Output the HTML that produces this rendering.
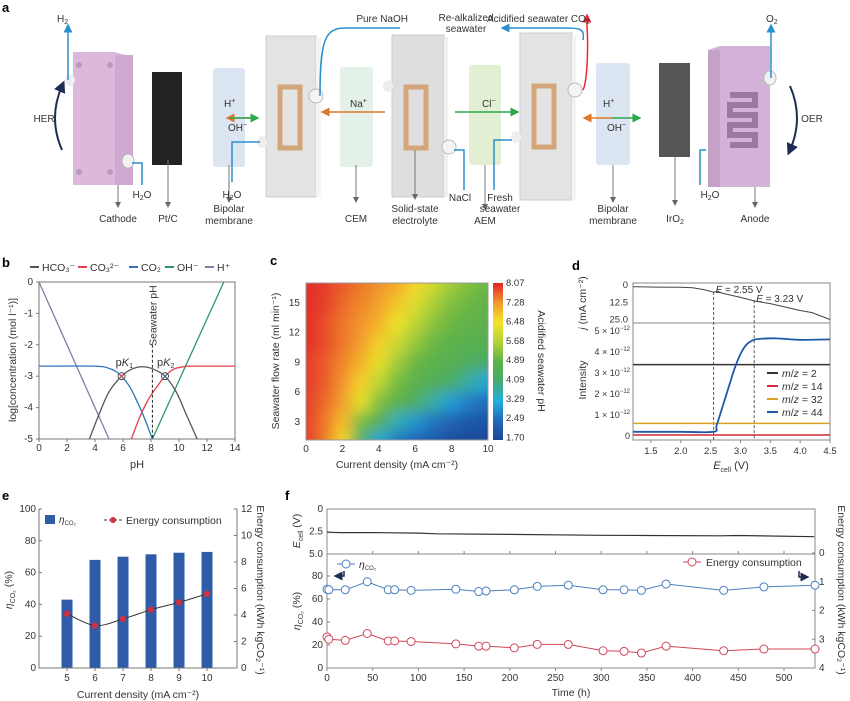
<!DOCTYPE html>
<html><head><meta charset="utf-8"><style>
html,body{margin:0;padding:0;background:#fff}
svg{display:block;font-family:"Liberation Sans",sans-serif}
text{fill:#333}
.t{font-size:10px}.s{font-size:9px}.b{font-size:13px;font-weight:bold;fill:#000}
</style></head><body>
<svg id="fig" width="850" height="701" viewBox="0 0 850 701">
<defs>
<marker id="ag" markerWidth="6" markerHeight="6" refX="3" refY="3" orient="auto"><path d="M0,0L6,3L0,6z" fill="#666"/></marker>
<marker id="ab" markerWidth="6" markerHeight="6" refX="3" refY="3" orient="auto"><path d="M0,0L6,3L0,6z" fill="#2a8fd0"/></marker>
<marker id="ar" markerWidth="6" markerHeight="6" refX="3" refY="3" orient="auto"><path d="M0,0L6,3L0,6z" fill="#e23"/></marker>
<marker id="ao" markerWidth="6" markerHeight="6" refX="3" refY="3" orient="auto"><path d="M0,0L6,3L0,6z" fill="#e0762a"/></marker>
<marker id="agr" markerWidth="6" markerHeight="6" refX="3" refY="3" orient="auto"><path d="M0,0L6,3L0,6z" fill="#2aa84a"/></marker>
<marker id="an" markerWidth="6" markerHeight="6" refX="3" refY="3" orient="auto"><path d="M0,0L6,3L0,6z" fill="#1d2b55"/></marker>
<filter id="blr" x="-10%" y="-10%" width="120%" height="120%"><feGaussianBlur stdDeviation="7"/></filter>
<clipPath id="cpc"><rect x="306" y="283" width="182" height="157"/></clipPath>
</defs>

<!-- PANEL A -->
<g>
<text x="2" y="12" class="b">a</text>
<g>
<polygon points="73,52 115,52 133,57 133,185 115,185 73,185" fill="#dcb8dc"/>
<rect x="115" y="55" width="18" height="130" fill="#cfa9cf"/>
<circle cx="79" cy="65" r="3" fill="#b99ab9"/><circle cx="110" cy="65" r="3" fill="#b99ab9"/>
<circle cx="79" cy="172" r="3" fill="#b99ab9"/><circle cx="110" cy="172" r="3" fill="#b99ab9"/>
<ellipse cx="70" cy="80" rx="5" ry="6" fill="#eee"/><ellipse cx="128" cy="161" rx="6" ry="7" fill="#f2f2f2" stroke="#bbb"/>
</g>
<rect x="152" y="72" width="30" height="93" fill="#222"/>
<rect x="213" y="68" width="32" height="99" rx="3" fill="#dbe6f2"/>
<g><rect x="266" y="36" width="50" height="161" fill="#e3e3e3" stroke="#ccc"/><rect x="316" y="38" width="5" height="159" fill="#f4f4f4"/>
<rect x="280" y="87" width="20" height="61" fill="none" stroke="#d2a678" stroke-width="5"/><ellipse cx="316" cy="96" rx="7" ry="7" fill="#f4f4f4" stroke="#bbb"/><ellipse cx="262" cy="142" rx="5" ry="6" fill="#eee"/></g>
<rect x="340" y="67" width="33" height="100" rx="3" fill="#e3f1e8"/>
<g><rect x="392" y="35" width="52" height="162" fill="#dedede" stroke="#ccc"/><rect x="444" y="37" width="4" height="160" fill="#f0f0f0"/>
<rect x="406" y="87" width="20" height="61" fill="none" stroke="#d2a678" stroke-width="5"/><ellipse cx="388" cy="86" rx="5" ry="6" fill="#eee"/><ellipse cx="449" cy="147" rx="7" ry="7" fill="#f4f4f4" stroke="#bbb"/></g>
<rect x="469" y="65" width="32" height="100" rx="3" fill="#e2efd2"/>
<g><rect x="520" y="33" width="52" height="167" fill="#e3e3e3" stroke="#ccc"/><rect x="572" y="35" width="4" height="165" fill="#f4f4f4"/>
<rect x="534" y="86" width="20" height="61" fill="none" stroke="#d2a678" stroke-width="5"/><ellipse cx="575" cy="90" rx="7" ry="7" fill="#f4f4f4" stroke="#bbb"/><ellipse cx="516" cy="137" rx="5" ry="6" fill="#eee"/></g>
<rect x="596" y="63" width="34" height="102" rx="3" fill="#dbe6f2"/>
<rect x="659" y="63" width="31" height="94" fill="#555"/>
<g><polygon points="708,50 720,46 770,46 770,187 708,187" fill="#d2b2d6"/><rect x="708" y="50" width="12" height="137" fill="#c4a2c8"/>
<path d="M730,95h25v10h-25v10h25v10h-25v10h25v10h-25" fill="none" stroke="#9c7aa0" stroke-width="6"/><ellipse cx="770" cy="78" rx="6" ry="7" fill="#f2f2f2" stroke="#bbb"/></g>
<g fill="none" stroke-width="1.5">
<path d="M68,80 V28" stroke="#2a8fd0" marker-end="url(#ab)"/>
<path d="M142,185 V163 h-10" stroke="#2a8fd0"/>
<path d="M771,78 V28" stroke="#2a8fd0" marker-end="url(#ab)"/>
<path d="M232,182 V142 h28" stroke="#2a8fd0"/>
<path d="M700,185 V150 h6" stroke="#2a8fd0"/>
<path d="M464,190 V150 h-10" stroke="#2a8fd0"/>
<path d="M494,190 V140 h18" stroke="#2a8fd0"/>
<path d="M320,96 C320,40 325,28 345,28 H400" stroke="#2a8fd0"/>
<path d="M583,90 C588,80 588,40 587,28 V18" stroke="#e23" marker-end="url(#ar)"/>
<path d="M583,40 C585,28 580,28 560,28 H505" stroke="#2a8fd0" marker-end="url(#ab)"/>
<path d="M255,118 h-25" stroke="#e0762a" marker-end="url(#ao)"/><path d="M230,118 h25" stroke="#2aa84a" marker-end="url(#agr)"/>
<path d="M385,112 h-60" stroke="#e0762a" marker-end="url(#ao)"/>
<path d="M455,112 h60" stroke="#2aa84a" marker-end="url(#agr)"/>
<path d="M612,118 h-25" stroke="#e0762a" marker-end="url(#ao)"/><path d="M612,118 h25" stroke="#2aa84a" marker-end="url(#agr)"/>
<path d="M62,150 Q48,118 62,86" stroke="#1d2b55" stroke-width="2" marker-end="url(#an)"/>
<path d="M790,86 Q804,118 790,150" stroke="#1d2b55" stroke-width="2" marker-end="url(#an)"/>
<g stroke="#777" stroke-width="1"><path d="M118,185 V205" marker-end="url(#ag)"/><path d="M168,160 V205" marker-end="url(#ag)"/><path d="M229,165 V200" marker-end="url(#ag)"/><path d="M356,165 V200" marker-end="url(#ag)"/><path d="M415,150 V197" marker-end="url(#ag)"/><path d="M485,165 V207" marker-end="url(#ag)"/><path d="M613,165 V200" marker-end="url(#ag)"/><path d="M675,157 V203" marker-end="url(#ag)"/><path d="M755,187 V205" marker-end="url(#ag)"/></g>
</g>
<g class="t">
<text x="57" y="22">H<tspan font-size="7" dy="2">2</tspan></text>
<text x="766" y="22">O<tspan font-size="7" dy="2">2</tspan></text>
<text x="44" y="122" text-anchor="middle">HER</text><text x="812" y="122" text-anchor="middle">OER</text>
<text x="408" y="22" text-anchor="end">Pure NaOH</text>
<text x="466" y="21" text-anchor="middle">Re-alkalized</text><text x="466" y="32" text-anchor="middle">seawater</text>
<text x="487" y="22">Acidified seawater CO<tspan font-size="7" dy="2">2</tspan></text>
<text x="224" y="107" fill="#e0762a">H<tspan font-size="7" dy="-4">+</tspan></text><text x="228" y="131" fill="#2aa84a">OH<tspan font-size="7" dy="-4">−</tspan></text>
<text x="350" y="107" fill="#e0762a">Na<tspan font-size="7" dy="-4">+</tspan></text>
<text x="482" y="107" fill="#2aa84a">Cl<tspan font-size="7" dy="-4">−</tspan></text>
<text x="603" y="107" fill="#e0762a">H<tspan font-size="7" dy="-4">+</tspan></text><text x="607" y="131" fill="#2aa84a">OH<tspan font-size="7" dy="-4">−</tspan></text>
<text x="118" y="222" text-anchor="middle">Cathode</text><text x="168" y="222" text-anchor="middle">Pt/C</text>
<text x="142" y="198" text-anchor="middle">H<tspan font-size="7" dy="2">2</tspan><tspan dy="-2">O</tspan></text>
<text x="232" y="198" text-anchor="middle">H<tspan font-size="7" dy="2">2</tspan><tspan dy="-2">O</tspan></text>
<text x="229" y="212" text-anchor="middle">Bipolar</text><text x="229" y="224" text-anchor="middle">membrane</text>
<text x="356" y="222" text-anchor="middle">CEM</text>
<text x="415" y="212" text-anchor="middle">Solid-state</text><text x="415" y="224" text-anchor="middle">electrolyte</text>
<text x="460" y="201" text-anchor="middle">NaCl</text>
<text x="500" y="201" text-anchor="middle">Fresh</text><text x="500" y="212" text-anchor="middle">seawater</text>
<text x="485" y="224" text-anchor="middle">AEM</text>
<text x="613" y="212" text-anchor="middle">Bipolar</text><text x="613" y="224" text-anchor="middle">membrane</text>
<text x="675" y="222" text-anchor="middle">IrO<tspan font-size="7" dy="2">2</tspan></text>
<text x="710" y="198" text-anchor="middle">H<tspan font-size="7" dy="2">2</tspan><tspan dy="-2">O</tspan></text>
<text x="755" y="222" text-anchor="middle">Anode</text>
</g>
</g>

<text x="2" y="267" class="b">b</text>
<text x="270" y="265" class="b">c</text>
<text x="572" y="270" class="b">d</text>
<text x="2" y="500" class="b">e</text>
<text x="285" y="500" class="b">f</text>

<g id="pb"></g>
<g id="pc"></g>
<g id="pd"></g>
<g id="pe"></g>
<g id="pf"></g>
</svg>
<script>
// ---------- DATA ----------
const bHCO3 = [[3.6,-5],[4.3,-4.2],[5,-3.5],[5.9,-3],[6.6,-2.78],[7.4,-2.7],[8.2,-2.78],[9,-3],[9.8,-3.5],[10.5,-4.2],[11.3,-5]];
const bCO3 = [[6.6,-5],[7.2,-4.3],[7.8,-3.75],[8.4,-3.35],[9,-3],[9.6,-2.78],[10.3,-2.7],[11,-2.68],[14,-2.68]];
const bCO2 = [[0,-2.68],[4,-2.68],[5,-2.75],[5.5,-2.85],[5.9,-3],[6.5,-3.35],[7,-3.8],[7.5,-4.3],[8.1,-5]];
const bOH = [[8.1,-5],[13.2,0]];
const bH = [[0,0],[5,-5]];
const bXTicks = [0,2,4,6,8,10,12,14];
const bYTicks = [0,-1,-2,-3,-4,-5];
const cX = [0,1,2,3,4,5,6,7,8,9,10];
const cY = [17,15,13,11,9,7,5,3,1];
const cVals = [
[8.0,7.9,7.7,7.5,7.3,7.1,6.6,6.0,5.5,5.2,5.0],
[8.0,7.9,7.6,7.4,7.2,6.8,6.2,5.6,5.2,5.0,4.9],
[8.0,7.8,7.5,7.3,7.0,6.4,5.8,5.3,5.0,4.9,4.8],
[8.0,7.8,7.5,7.2,6.7,6.0,5.4,5.0,4.8,4.7,4.6],
[7.9,7.7,7.4,7.0,6.3,5.5,5.0,4.8,4.6,4.4,4.2],
[7.9,7.7,7.3,6.7,5.8,5.1,4.8,4.5,4.2,3.7,3.2],
[7.9,7.6,7.2,6.3,5.2,4.8,4.4,3.7,3.1,2.7,2.5],
[7.9,7.5,6.9,5.1,4.6,3.6,3.0,2.6,2.3,2.1,2.0],
[7.9,7.5,6.6,4.3,3.2,2.6,2.3,2.1,1.9,1.8,1.7]];
const cXTicks = [0,2,4,6,8,10];
const cYTicks = [3,6,9,12,15];
const cBarTicks = ["8.07","7.28","6.48","5.68","4.89","4.09","3.29","2.49","1.70"];
const dJE = [1.2,1.6,2.0,2.2,2.4,2.55,2.62,2.7,3.0,3.23,3.5,4.0,4.2,4.5];
const dJ = [1.2,1.5,1.7,2.0,3.5,5.2,4.6,6.0,9.0,11.5,13.5,18.5,20,25];
const dE44 = [1.2,2.0,2.55,2.6,2.7,2.8,2.9,3.0,3.1,3.2,3.3,3.6,4.0,4.5];
const dI44 = [0.2,0.2,0.2,0.5,1.4,2.3,3.2,3.9,4.35,4.55,4.62,4.65,4.58,4.6];
const dFlat = {m2:3.4, m14:0.05, m32:0.6};
const dXTicks = [1.5,2.0,2.5,3.0,3.5,4.0,4.5];
const dJTicks = ["0","12.5","25.0"];
const dITicks = [0,1,2,3,4,5];
const dMarks = [2.55,3.23];
const eCats = [5,6,7,8,9,10];
const eEff = [43,68,70,71.5,72.5,73];
const eEnergy = [4.1,3.2,3.7,4.4,4.95,5.6];
const eLTicks = [0,20,40,60,80,100];
const eRTicks = [0,2,4,6,8,10,12];
const fT = [0,2,20,44,67,74,92,141,166,174,205,230,264,302,325,344,371,434,478,534];
const fEff = [68.5,68,68,75,68,68,67.5,68.5,66.5,67,68,71,72,68,68,67.5,73,67.5,70.5,72];
const fEnergy = [2.92,3.0,3.04,2.8,3.06,3.06,3.08,3.16,3.24,3.24,3.3,3.18,3.18,3.4,3.42,3.48,3.24,3.4,3.34,3.34];
const fECellT = [0,5,15,50,100,120,200,300,350,430,450,533];
const fECell = [2.55,2.6,2.62,2.62,2.68,2.75,2.82,2.92,2.95,2.98,2.95,3.08];
const fXTicks = [0,50,100,150,200,250,300,350,400,450,500];
const fLTicks = [0,20,40,60,80];
const fRTicks = [0,1,2,3,4];
const fETicks = ["0","2.5","5.0"];

const NS="http://www.w3.org/2000/svg";
function el(tag, attrs, parent){const e=document.createElementNS(NS,tag);for(const k in attrs)e.setAttribute(k,attrs[k]);parent.appendChild(e);return e;}
function txt(s, x, y, parent, anchor, size, fill){const e=el('text',{x:x,y:y,'text-anchor':anchor||'middle','font-size':size||10,fill:fill||'#444'},parent);e.textContent=s;return e;}
function path(pts){return pts.map((p,i)=>(i?'L':'M')+p[0].toFixed(1)+','+p[1].toFixed(1)).join('');}
function smooth(pts){
 if(pts.length<3) return path(pts);
 let d='M'+pts[0][0]+','+pts[0][1];
 for(let i=0;i<pts.length-1;i++){const p0=pts[i-1]||pts[i],p1=pts[i],p2=pts[i+1],p3=pts[i+2]||p2;
  d+='C'+(p1[0]+(p2[0]-p0[0])/6)+','+(p1[1]+(p2[1]-p0[1])/6)+' '+(p2[0]-(p3[0]-p1[0])/6)+','+(p2[1]-(p3[1]-p1[1])/6)+' '+p2[0]+','+p2[1];}
 return d;}

// PANEL B
(function(){
const g=document.getElementById('pb');
const X=p=>39+p*14, Y=v=>282-v*31.4;
const box=el('rect',{x:39,y:282,width:196,height:157,fill:'none',stroke:'#777'},g);


bXTicks.forEach(t=>{el('line',{x1:X(t),x2:X(t),y1:439,y2:442,stroke:'#777'},g);const tx=txt(String(t),X(t),451,g);
 
 });
bYTicks.forEach(t=>{el('line',{x1:36,x2:39,y1:Y(t),y2:Y(t),stroke:'#777'},g);const tx=txt(t===0?'0':String(t),33,Y(t)+3,g,'end');
 
 });
const xt=txt('pH',137,468,g,'middle',11);


const yt=txt('log[concentration (mol l⁻¹)]',0,0,g,'middle',10.5);
yt.setAttribute('transform','translate(16,360) rotate(-90)');


const cp=el('clipPath',{id:'cpb'},g);el('rect',{x:39,y:282,width:196,height:157},cp);
const series=[[bH,'#8a7ba6','h-plus-line'],[bOH,'#2a9a6a','oh-line'],[bCO2,'#2f73b8','co2-line'],[bCO3,'#e5404a','co3-line'],[bHCO3,'#555','hco3-line']];
series.forEach(s=>{const p=el('path',{d:smooth(s[0].map(q=>[X(q[0]),Y(q[1])])),fill:'none',stroke:s[1],'stroke-width':1.3,'clip-path':'url(#cpb)'},g);
 
 });
const dl=el('line',{x1:X(8.1),x2:X(8.1),y1:Y(-2.0),y2:439,stroke:'#222','stroke-dasharray':'3,2'},g);


const sl=txt('Seawater pH',0,0,g,'start',10.5,'#333');sl.setAttribute('transform','translate('+(X(8.1)+4)+',346) rotate(-90)');


[[5.9,'#e5404a','pK-1'],[9,'#2f73b8','pK-2']].forEach(k=>{const c=el('circle',{cx:X(k[0]),cy:Y(-3),r:3.5,fill:'none',stroke:'#333','stroke-width':0.8},g);
 
 
 el('path',{d:`M${X(k[0])-2.5},${Y(-3)-2.5}l5,5m0,-5l-5,5`,stroke:k[1],'stroke-width':0.8},g);});
const k1=el('text',{x:X(5.9)-6,y:Y(-3)-10,'font-size':11,fill:'#e5404a'},g);k1.innerHTML='p<tspan font-style="italic">K</tspan><tspan font-size="7" dy="2">1</tspan>';


const k2=el('text',{x:X(9)-8,y:Y(-3)-10,'font-size':11,fill:'#2f73b8'},g);k2.innerHTML='p<tspan font-style="italic">K</tspan><tspan font-size="7" dy="2">2</tspan>';


const leg=[['#555','HCO₃⁻',30],['#e5404a','CO₃²⁻',78],['#2f73b8','CO₂',129],['#2a9a6a','OH⁻',165],['#8a7ba6','H⁺',205]];
leg.forEach(l=>{const lg=el('g',{},g);
 
 
 el('line',{x1:l[2],x2:l[2]+9,y1:267,y2:267,stroke:l[0],'stroke-width':2},lg);txt(l[1],l[2]+12,271,lg,'start',10.5,'#333');});
})();

// PANEL C
(function(){
const g=document.getElementById('pc');
const X=c=>306+c*18.2, Y=f=>440-(f-1.18)*9.92;
const stops=[[1.7,[30,70,150]],[2.49,[32,105,185]],[3.29,[35,175,225]],[4.09,[70,170,110]],[4.89,[95,178,70]],[5.68,[180,210,55]],[6.48,[245,228,40]],[7.28,[242,150,45]],[8.07,[225,35,40]]];
function col(v){if(v<=stops[0][0])return'rgb('+stops[0][1]+')';for(let i=1;i<stops.length;i++){if(v<=stops[i][0]){const a=stops[i-1],b=stops[i],t=(v-a[0])/(b[0]-a[0]);return'rgb('+a[1].map((q,j)=>Math.round(q+(b[1][j]-q)*t)).join(',')+')';}}return'rgb('+stops[8][1]+')';}
const sharp=el('g',{'clip-path':'url(#cpc)'},g);
const soft=el('g',{'clip-path':'url(#cpc)'},g);
const softIn=el('g',{filter:'url(#blr)'},soft);
cY.forEach((yv,r)=>cX.forEach((xv,c)=>{
 const x0=xv===0?-1:xv-0.5,x1=xv===10?11:xv+0.5,y0=yv===1?0:yv-1,y1=yv===17?19:yv+1;
 const cell=el('rect',{x:X(x0),y:Y(y1),width:X(x1)-X(x0)+0.5,height:Y(y0)-Y(y1)+0.5,fill:col(cVals[r][c])},sharp);
 
 
 el('rect',{x:X(x0),y:Y(y1),width:X(x1)-X(x0)+0.5,height:Y(y0)-Y(y1)+0.5,fill:col(cVals[r][c])},softIn);
}));
el('rect',{x:306,y:283,width:182,height:157,fill:'none',stroke:'#999'},g);
cXTicks.forEach(t=>{const tx=txt(String(t),X(t),452,g);
 
 });
cYTicks.forEach(t=>{const tx=txt(String(t),300,Y(t)+3,g,'end');
 
 });
const xt=txt('Current density (mA cm⁻²)',397,468,g,'middle',10.5);


const yt=txt('Seawater flow rate (ml min⁻¹)',0,0,g,'middle',10.5);yt.setAttribute('transform','translate(279,361) rotate(-90)');


const gr=el('linearGradient',{id:'cbg',x1:0,y1:1,x2:0,y2:0},g);
stops.forEach(s=>el('stop',{offset:((s[0]-1.7)/(8.07-1.7)),'stop-color':'rgb('+s[1]+')'},gr));
const cb=el('rect',{x:493,y:283,width:10,height:157,fill:'url(#cbg)'},g);


cBarTicks.forEach((t,i)=>{const tx=txt(t,506,286+i*19.3,g,'start',9.5);
 
 });
const ct=txt('Acidified seawater pH',0,0,g,'middle',10.5);ct.setAttribute('transform','translate(538,361) rotate(90)');


})();

// PANEL D
(function(){
const g=document.getElementById('pd');
const X=e=>633+(e-1.2)*59.7, YJ=j=>285+j*1.38, YI=i=>436-i*21;
el('rect',{x:633,y:283,width:197,height:40,fill:'none',stroke:'#888'},g);
el('rect',{x:633,y:323,width:197,height:117,fill:'none',stroke:'#888'},g);
dXTicks.forEach(t=>{el('line',{x1:X(t),x2:X(t),y1:440,y2:443,stroke:'#888'},g);const tx=txt(t.toFixed(1),X(t),454,g,'middle',9.5);
 
 });
dJTicks.forEach(t=>{const tx=txt(t,628,YJ(parseFloat(t))+3,g,'end',9.5);
 
 });
dITicks.forEach(t=>{const tx=el('text',{x:630,y:YI(t)+3,'text-anchor':'end','font-size':9,fill:'#444'},g);
 tx.innerHTML=t===0?'0':t+' × 10<tspan font-size="6" dy="-4">−12</tspan>';
 
 });
const jy=el('text',{'font-size':10.5,fill:'#333','text-anchor':'middle',transform:'translate(586,303) rotate(-90)'},g);jy.innerHTML='<tspan font-style="italic">j</tspan> (mA cm⁻²)';


const iy=txt('Intensity',0,0,g,'middle',10.5);iy.setAttribute('transform','translate(586,380) rotate(-90)');


const xt=el('text',{x:731,y:469,'text-anchor':'middle','font-size':11,fill:'#333'},g);xt.innerHTML='<tspan font-style="italic">E</tspan><tspan font-size="7" dy="3">cell</tspan><tspan dy="-3"> (V)</tspan>';


const jl=el('path',{d:path(dJE.map((e,i)=>[X(e),YJ(dJ[i])])),fill:'none',stroke:'#444','stroke-width':1},g);


dMarks.forEach((m,i)=>{const l=el('line',{x1:X(m),x2:X(m),y1:YJ(i?11:5),y2:440,stroke:'#555','stroke-dasharray':'3,2'},g);
 
 
 const t=el('text',{x:X(m)+2,y:i?302:293,'font-size':10,fill:'#333'},g);t.innerHTML='<tspan font-style="italic">E</tspan> = '+m.toFixed(2)+' V';
 
 });
const flats=[['#333',dFlat.m2,'mz2-line'],['#d22a3c',dFlat.m14,'mz14-line'],['#d9a320',dFlat.m32,'mz32-line']];
flats.forEach(f=>{const l=el('line',{x1:633,x2:830,y1:YI(f[1]),y2:YI(f[1]),stroke:f[0],'stroke-width':1.5},g);
 
 });
const bl=el('path',{d:smooth(dE44.map((e,i)=>[X(e),YI(dI44[i])])),fill:'none',stroke:'#1f5aa8','stroke-width':1.8},g);


[['#333','2'],['#d22a3c','14'],['#d9a320','32'],['#1f5aa8','44']].forEach((l,i)=>{const lg=el('g',{},g);
 
 
 const y=373+i*13;el('line',{x1:767,x2:778,y1:y,y2:y,stroke:l[0],'stroke-width':2},lg);
 const t=el('text',{x:782,y:y+4,'font-size':10.5,fill:'#333'},lg);t.innerHTML='<tspan font-style="italic">m</tspan>/<tspan font-style="italic">z</tspan> = '+l[1];});
})();

// PANEL E
(function(){
const g=document.getElementById('pe');
const X=k=>67+(k-5)*28, YL=v=>668-v*1.59, YR=v=>668-v*13.25;
eCats.forEach((k,i)=>{const b=el('rect',{x:X(k)-5.5,y:YL(eEff[i]),width:11,height:668-YL(eEff[i]),fill:'#2f5ca8'},g);
 
 });
el('path',{d:'M39,509V668H237V509',fill:'none',stroke:'#777'},g);
eLTicks.forEach(t=>{el('line',{x1:39,x2:42,y1:YL(t),y2:YL(t),stroke:'#777'},g);const tx=txt(String(t),36,YL(t)+3,g,'end');
 
 });
eRTicks.forEach(t=>{el('line',{x1:234,x2:237,y1:YR(t),y2:YR(t),stroke:'#777'},g);const tx=txt(String(t),241,YR(t)+3,g,'start');
 
 });
eCats.forEach(k=>{el('line',{x1:X(k),x2:X(k),y1:668,y2:671,stroke:'#777'},g);const tx=txt(String(k),X(k),681,g);
 
 });
const ln=el('path',{d:smooth(eCats.map((k,i)=>[X(k),YR(eEnergy[i])])),fill:'none',stroke:'#333','stroke-width':1},g);


eCats.forEach((k,i)=>{const c=el('circle',{cx:X(k),cy:YR(eEnergy[i]),r:3.2,fill:'#d03040'},g);
 
 });
const xt=txt('Current density (mA cm⁻²)',138,698,g,'middle',10.5);


const yl=el('text',{'font-size':10.5,fill:'#333','text-anchor':'middle',transform:'translate(12,590) rotate(-90)'},g);yl.innerHTML='<tspan font-style="italic">η</tspan><tspan font-size="7" dy="3">CO₂</tspan><tspan dy="-3"> (%)</tspan>';


const yr=txt('Energy consumption (kWh kgCO₂⁻¹)',0,0,g,'middle',10.5);yr.setAttribute('transform','translate(257,590) rotate(90)');


const l1=el('g',{},g);


el('rect',{x:45,y:515,width:10,height:9,fill:'#2f5ca8'},l1);const t1=el('text',{x:59,y:523,'font-size':10,fill:'#333'},l1);t1.innerHTML='<tspan font-style="italic">η</tspan><tspan font-size="6" dy="2">CO₂</tspan>';
const l2=el('g',{},g);


el('line',{x1:104,x2:122,y1:520,y2:520,stroke:'#333','stroke-dasharray':'3,2'},l2);el('circle',{cx:113,cy:520,r:3,fill:'#d03040'},l2);txt('Energy consumption',126,524,l2,'start',10.5,'#333');
})();

// PANEL F
(function(){
const g=document.getElementById('pf');
const X=t=>327+t*0.914, YE=v=>509+v*9, YL=v=>668-v*1.15, YR=v=>553+v*28.75;
el('rect',{x:327,y:509,width:488,height:45,fill:'none',stroke:'#888'},g);
el('rect',{x:327,y:554,width:488,height:114,fill:'none',stroke:'#888'},g);
fXTicks.forEach(t=>{el('line',{x1:X(t),x2:X(t),y1:668,y2:671,stroke:'#888'},g);el('line',{x1:X(t),x2:X(t),y1:554,y2:551,stroke:'#888'},g);
 const tx=txt(String(t),X(t),681,g);
 
 });
fETicks.forEach(t=>{const tx=txt(t,323,YE(parseFloat(t))+3,g,'end');
 
 });
fLTicks.forEach(t=>{el('line',{x1:327,x2:330,y1:YL(t),y2:YL(t),stroke:'#888'},g);const tx=txt(String(t),323,YL(t)+3,g,'end');
 
 });
fRTicks.forEach(t=>{el('line',{x1:812,x2:815,y1:YR(t),y2:YR(t),stroke:'#888'},g);const tx=txt(String(t),819,YR(t)+3,g,'start');
 
 });
const el1=el('path',{d:path(fECellT.map((t,i)=>[X(t),YE(fECell[i])])),fill:'none',stroke:'#333','stroke-width':1.2},g);


const bl=el('path',{d:path(fT.map((t,i)=>[X(t),YL(fEff[i])])),fill:'none',stroke:'#4a7fc0','stroke-width':1},g);


const rl=el('path',{d:path(fT.map((t,i)=>[X(t),YR(fEnergy[i])])),fill:'none',stroke:'#d04858','stroke-width':1},g);


fT.forEach((t,i)=>{const c=el('circle',{cx:X(t),cy:YL(fEff[i]),r:4,fill:'#fff',stroke:'#4a7fc0'},g);
 
 
 const d=el('circle',{cx:X(t),cy:YR(fEnergy[i]),r:4,fill:'#fff',stroke:'#d04858'},g);
 
 });
const ey=el('text',{'font-size':10.5,fill:'#333','text-anchor':'middle',transform:'translate(300,531) rotate(-90)'},g);ey.innerHTML='<tspan font-style="italic">E</tspan><tspan font-size="7" dy="3">cell</tspan><tspan dy="-3"> (V)</tspan>';


const yl=el('text',{'font-size':10.5,fill:'#333','text-anchor':'middle',transform:'translate(300,611) rotate(-90)'},g);yl.innerHTML='<tspan font-style="italic">η</tspan><tspan font-size="7" dy="3">CO₂</tspan><tspan dy="-3"> (%)</tspan>';


const yr=txt('Energy consumption (kWh kgCO₂⁻¹)',0,0,g,'middle',10.5);yr.setAttribute('transform','translate(838,590) rotate(90)');


const xt=txt('Time (h)',571,696,g,'middle',10.5);


const l1=el('g',{},g);


el('line',{x1:337,x2:355,y1:564,y2:564,stroke:'#4a7fc0'},l1);el('circle',{cx:346,cy:564,r:4,fill:'#fff',stroke:'#4a7fc0'},l1);
const t1=el('text',{x:359,y:568,'font-size':10.5,fill:'#333'},l1);t1.innerHTML='<tspan font-style="italic">η</tspan><tspan font-size="6" dy="2">CO₂</tspan>';
el('path',{d:'M344,571v5h-6',fill:'none',stroke:'#1d2b55','stroke-width':1.5,'marker-end':'url(#an)'},l1);
const l2=el('g',{},g);


el('line',{x1:683,x2:701,y1:562,y2:562,stroke:'#d04858'},l2);el('circle',{cx:692,cy:562,r:4,fill:'#fff',stroke:'#d04858'},l2);
txt('Energy consumption',706,566,l2,'start',10.5,'#333');
el('path',{d:'M799,571v6h6',fill:'none',stroke:'#1d2b55','stroke-width':1.5,'marker-end':'url(#an)'},l2);
})();
</script>
</body></html>
